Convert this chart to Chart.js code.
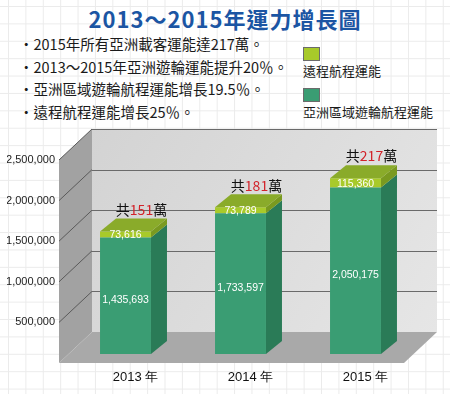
<!DOCTYPE html>
<html>
<head>
<meta charset="utf-8">
<script src="https://cdn.jsdelivr.net/npm/chart.js@4"></script>
<style>
  html, body { margin: 0; padding: 0; }
  body {
    width: 450px; height: 394px; position: relative; overflow: hidden;
    background-color: #fff;
    background-image: linear-gradient(#ebebeb 1px, transparent 1px),
                      linear-gradient(90deg, #ebebeb 1px, transparent 1px);
    background-size: 17.4px 17.4px;
    background-position: 8px 6px;
    font-family: "Noto Sans CJK TC", "Noto Sans", sans-serif;
  }
  #chart { position: absolute; left: 0; top: 0; }
  #title {
    position: absolute; left: 0; top: 4px; width: 450px; text-align: center;
    font-size: 22px; font-weight: bold; color: #1b55a3; line-height: 28px; letter-spacing: 1px;
  }
  #notes {
    position: absolute; left: 19px; top: 33px; margin: 0; padding: 0; list-style: none;
    font-size: 14.5px; line-height: 22.5px; color: #1a1a1a; white-space: nowrap;
  }
  .lg-box { position: absolute; left: 303px; width: 15px; height: 12px; border: 1px solid #6b6b6b; }
  .lg-text { position: absolute; left: 303px; font-size: 13px; line-height: 16px; color: #1a1a1a; white-space: nowrap; }
</style>
</head>
<body>
<div id="title">2013～2015年運力增長圖</div>
<ul id="notes">
  <li>・2015年所有亞洲載客運能達217萬。</li>
  <li>・2013～2015年亞洲遊輪運能提升20％。</li>
  <li>・亞洲區域遊輪航程運能增長19.5％。</li>
  <li>・遠程航程運能增長25％。</li>
</ul>
<div id="legend"></div>
<canvas id="chart" width="450" height="394"></canvas>

<script>
// chart data
const years = ["2013 年", "2014 年", "2015 年"];
const regionalCapacity = [1435693, 1733597, 2050175];
const longHaulCapacity = [73616, 73789, 115360];
const seriesNames = ["亞洲區域遊輪航程運能", "遠程航程運能"];
const yTicks = [500000, 1000000, 1500000, 2000000, 2500000];

const fmt = (v) => v.toLocaleString("en-US");

// 3D look: offsets of the back wall, front edge and bar depth
const BACK = { x: 24, y: -22 };
const FRONT = { x: -9, y: 9 };
const BAR_DEPTH = { x: 16, y: -13 };

function poly(ctx, pts, fill) {
  ctx.beginPath();
  ctx.moveTo(pts[0][0], pts[0][1]);
  for (let i = 1; i < pts.length; i++) ctx.lineTo(pts[i][0], pts[i][1]);
  ctx.closePath();
  ctx.fillStyle = fill;
  ctx.fill();
}

const wallsPlugin = {
  id: "walls",
  beforeDatasetsDraw(chart) {
    const { ctx, chartArea: a, scales: { y } } = chart;
    const y0 = y.getPixelForValue(0);
    const yT = y.getPixelForValue(y.max);
    const L = a.left, R = a.right;
    ctx.save();
    // back wall
    const g = ctx.createLinearGradient(L + BACK.x, yT + BACK.y, R + BACK.x, y0 + BACK.y);
    g.addColorStop(0, "#d3d3d3");
    g.addColorStop(1, "#e6e6e6");
    poly(ctx, [[L + BACK.x, yT + BACK.y], [R + BACK.x, yT + BACK.y],
               [R + BACK.x, y0 + BACK.y], [L + BACK.x, y0 + BACK.y]], g);
    // left wall
    poly(ctx, [[L + FRONT.x, yT + FRONT.y], [L + BACK.x, yT + BACK.y],
               [L + BACK.x, y0 + BACK.y], [L + FRONT.x, y0 + FRONT.y]], "#a2a2a2");
    // floor
    poly(ctx, [[L + FRONT.x, y0 + FRONT.y], [L + BACK.x, y0 + BACK.y],
               [R + BACK.x, y0 + BACK.y], [R + FRONT.x, y0 + FRONT.y]], "#a9a9a9");
    // grid lines
    ctx.lineWidth = 1;
    yTicks.forEach((v) => {
      const py = y.getPixelForValue(v);
      ctx.strokeStyle = "#6a6a6a";
      ctx.beginPath();
      ctx.moveTo(L + BACK.x, Math.round(py + BACK.y) + 0.5);
      ctx.lineTo(R + BACK.x, Math.round(py + BACK.y) + 0.5);
      ctx.stroke();
      ctx.strokeStyle = "#5a5a5a";
      ctx.beginPath();
      ctx.moveTo(L + FRONT.x, py + FRONT.y);
      ctx.lineTo(L + BACK.x, py + BACK.y);
      ctx.stroke();
    });
    ctx.restore();
  }
};

const sideColors = ["#2a7b57", "#7a9a20"];
const topColor = "#8aab2a";

const barsPlugin = {
  id: "bars3d",
  afterDatasetsDraw(chart) {
    const { ctx } = chart;
    const last = chart.data.datasets.length - 1;
    ctx.save();
    chart.data.datasets.forEach((ds, di) => {
      chart.getDatasetMeta(di).data.forEach((bar) => {
        const { x, y, base, width } = bar.getProps(["x", "y", "base", "width"], true);
        const l = x - width / 2, r = x + width / 2;
        poly(ctx, [[r, y], [r + BAR_DEPTH.x, y + BAR_DEPTH.y],
                   [r + BAR_DEPTH.x, base + BAR_DEPTH.y], [r, base]], sideColors[di]);
        if (di === last) {
          poly(ctx, [[l, y], [l + BAR_DEPTH.x, y + BAR_DEPTH.y],
                     [r + BAR_DEPTH.x, y + BAR_DEPTH.y], [r, y]], topColor);
        }
      });
    });

    // value labels
    ctx.fillStyle = "#ffffff";
    ctx.font = "10.5px 'Liberation Sans', Arial, sans-serif";
    ctx.textAlign = "center";
    ctx.textBaseline = "middle";
    chart.data.datasets.forEach((ds, di) => {
      chart.getDatasetMeta(di).data.forEach((bar, i) => {
        const { x, y, base } = bar.getProps(["x", "y", "base"], true);
        const off = di === 0 ? 4 : 1;
        ctx.fillText(fmt(ds.data[i]), x, (y + base) / 2 + off);
      });
    });

    // totals above bars, in 萬
    ctx.font = "14px 'Noto Sans CJK TC', sans-serif";
    ctx.textAlign = "left";
    chart.getDatasetMeta(last).data.forEach((bar, i) => {
      const { x, y } = bar.getProps(["x", "y"], true);
      const total = Math.round((regionalCapacity[i] + longHaulCapacity[i]) / 10000);
      const parts = [["共", "#111111"], [String(total), "#d2232a"], ["萬", "#111111"]];
      const w = parts.reduce((s, p) => s + ctx.measureText(p[0]).width, 0);
      let px = x + 16 - w / 2;
      parts.forEach(([t, c]) => {
        ctx.fillStyle = c;
        ctx.fillText(t, px, y - 22);
        px += ctx.measureText(t).width;
      });
    });
    ctx.restore();
  }
};

const chart = new Chart(document.getElementById("chart"), {
  type: "bar",
  data: {
    labels: years,
    datasets: [
      {
        label: seriesNames[0],
        data: regionalCapacity,
        backgroundColor: "#3a9d73",
      },
      {
        label: seriesNames[1],
        data: longHaulCapacity,
        backgroundColor: "#a8ca2a",
      },
    ],
  },
  options: {
    responsive: false,
    devicePixelRatio: 1,
    animation: false,
    layout: { padding: { left: 7, top: 151, right: 37, bottom: 0 } },
    datasets: { bar: { barPercentage: 0.443, categoryPercentage: 1 } },
    plugins: { legend: { display: false }, tooltip: { enabled: false } },
    scales: {
      x: {
        stacked: true,
        grid: { display: false, drawTicks: false },
        border: { display: false },
        ticks: {
          padding: 16,
          labelOffset: 10,
          color: "#111111",
          font: { family: "'Liberation Sans', Arial, sans-serif", size: 13 },
        },
        afterFit: (scale) => { scale.height = 40; },
      },
      y: {
        stacked: true,
        min: 0,
        max: 2500000,
        grid: { display: false, drawTicks: false },
        border: { display: false },
        afterBuildTicks: (scale) => { scale.ticks = yTicks.map((v) => ({ value: v })); },
        ticks: {
          padding: 13,
          labelOffset: 9,
          color: "#222222",
          font: { family: "'Liberation Sans', Arial, sans-serif", size: 11 },
          callback: (v) => fmt(v),
        },
        afterFit: (scale) => { scale.width = 61; },
      },
    },
  },
  plugins: [wallsPlugin, barsPlugin],
});

// legend: swatch above label, long-haul first
const legendEl = document.getElementById("legend");
const legendTops = [47, 88];
[1, 0].forEach((di, k) => {
  const ds = chart.data.datasets[di];
  const box = document.createElement("div");
  box.className = "lg-box";
  box.style.top = legendTops[k] + "px";
  box.style.background = ds.backgroundColor;
  const txt = document.createElement("div");
  txt.className = "lg-text";
  txt.style.top = legendTops[k] + 16 + "px";
  txt.textContent = ds.label;
  legendEl.appendChild(box);
  legendEl.appendChild(txt);
});
</script>
</body>
</html>
